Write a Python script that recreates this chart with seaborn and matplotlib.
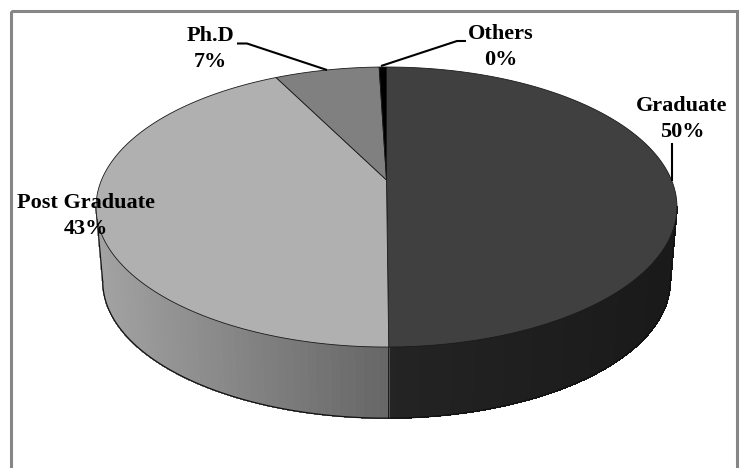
import numpy as np
import matplotlib
matplotlib.use("Agg")
import matplotlib.pyplot as plt
import seaborn as sns
from matplotlib.collections import PolyCollection
from matplotlib.patches import Rectangle
from matplotlib.path import Path
from matplotlib.transforms import Affine2D, Transform

# Highest qualification held, share of respondents (percent)
categories = ["Graduate", "Post Graduate", "Ph.D", "Others"]
shares = [49.9, 42.6, 7.01, 0.49]

slice_colors = ["#404040", "#b0b0b0", "#808080", "#000000"]

# Perspective disc geometry, in figure pixels
APEX_X, TOP_Y, BASE_Y = 386.5, 180.0, 255.0
RX, RY, BASE_SCALE, TILT = 285.0, 134.8, 0.977, 0.193


def project(u, v, base=False):
    """Map a point of the unit disc onto the tilted top or base plane."""
    u, v = np.asarray(u, float), np.asarray(v, float)
    s = 1.0 / (1.0 + TILT * v)
    k = BASE_SCALE if base else 1.0
    y0 = BASE_Y if base else TOP_Y
    return APEX_X + k * RX * u * s, y0 - k * RY * v * s


class TiltTransform(Transform):
    input_dims = output_dims = 2

    def transform_non_affine(self, values):
        x, y = project(values[:, 0], values[:, 1])
        return np.column_stack([x, y])

    def transform_path_non_affine(self, path):
        # Flatten the arcs at a fine scale, then project the vertices
        scaled = path.transformed(Affine2D().scale(2000))
        polys = scaled.to_polygons(closed_only=True)
        return Path(self.transform_non_affine(polys[0] / 2000.0), closed=True)


def wall(ax, start, stop, shade_left, shade_right):
    """Draw the side of the disc between two angles as shaded strips."""
    angles = np.radians(np.linspace(start, stop, 61))
    tx, ty = project(np.cos(angles), np.sin(angles))
    bx, by = project(np.cos(angles), np.sin(angles), base=True)
    polys, shades = [], []
    span = bx.max() - bx.min()
    for i in range(len(angles) - 1):
        polys.append([(tx[i], ty[i]), (tx[i + 1], ty[i + 1]),
                      (bx[i + 1], by[i + 1]), (bx[i], by[i])])
        f = ((bx[i] + bx[i + 1]) / 2 - bx.min()) / span
        shades.append(str(shade_left + (shade_right - shade_left) * f))
    ax.add_collection(PolyCollection(polys, facecolors=shades, edgecolors=shades,
                                     linewidths=0.5, antialiaseds=False, zorder=1))
    ax.plot(bx, by, color="#111111", lw=0.9, zorder=2)


sns.set_theme(style="white")
plt.rcParams["font.family"] = ["Liberation Serif", "DejaVu Serif"]

fig = plt.figure(figsize=(7.48, 4.68), dpi=100, facecolor="white")
ax = fig.add_axes([0, 0, 1, 1])

wedges, _ = ax.pie(shares, colors=slice_colors, startangle=90, counterclock=False,
                   wedgeprops={"edgecolor": "#1a1a1a", "linewidth": 0.6, "zorder": 3})
tilt = TiltTransform()
for wedge in wedges:
    wedge.set_transform(tilt + ax.transData)

ax.set_aspect("auto")
ax.set_xlim(0, 748)
ax.set_ylim(468, 0)
ax.set_frame_on(False)

# Visible side of the disc: from the split between the first two slices to each silhouette
front_angle = 90 - 360 * shares[0] / sum(shares)
edge_angle = np.degrees(np.arcsin(TILT))
wall(ax, front_angle, -edge_angle, 0.14, 0.10)
wall(ax, 180 + edge_angle, 360 + front_angle, 0.64, 0.40)

# Outlines of the side
for a in (-edge_angle, 180 + edge_angle, front_angle):
    r = np.radians(a)
    x0, y0 = project(np.cos(r), np.sin(r))
    x1, y1 = project(np.cos(r), np.sin(r), base=True)
    ax.plot([x0, x1], [y0, y1], color="#111111", lw=0.8, zorder=2)

# Chart frame
ax.add_patch(Rectangle((11, 11), 726, 480, fill=False, edgecolor="#868686", lw=2.2, zorder=0))

# Leader lines
leader = {"color": "black", "lw": 1.5, "zorder": 4, "solid_capstyle": "butt"}
ax.plot([237, 247, 327], [43.5, 43.5, 70], **leader)
ax.plot([381, 457, 466], [66, 41, 41], **leader)
ax.plot([672, 672], [143, 181], **leader)

# Slice labels
label_xy = [(682, 119), (86, 216), (210, 49), (501, 47)]
for name, share, (x, y) in zip(categories, shares, label_xy):
    ax.text(x, y, f"{name}\n{share:.0f}%", ha="center", va="center", fontsize=16,
            fontweight="bold", color="black", linespacing=1.35, zorder=5)

fig.savefig("out.png", dpi=100, facecolor="white")
